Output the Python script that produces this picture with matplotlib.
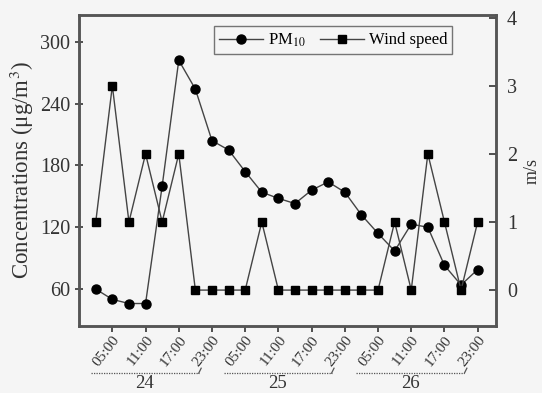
import matplotlib.pyplot as plt
import matplotlib.transforms as mtransforms

plt.rcParams['font.family'] = ['Liberation Serif', 'DejaVu Serif']
plt.rcParams['mathtext.fontset'] = 'stix'

days = ['24', '25', '26']
hours = ['02:00', '05:00', '08:00', '11:00', '14:00', '17:00', '20:00', '23:00']
tick_hours = ['05:00', '11:00', '17:00', '23:00']

pm10 = [60, 50, 46, 46, 160, 282, 254, 204,
        195, 174, 154, 148, 143, 156, 164, 154,
        132, 114, 97, 123, 120, 83, 64, 79]
wind = [1, 3, 1, 2, 1, 2, 0, 0,
        0, 0, 1, 0, 0, 0, 0, 0,
        0, 0, 1, 0, 2, 1, 0, 1]

bg = '#f5f5f5'
x = list(range(len(pm10)))

fig = plt.figure(figsize=(5.42, 3.93), dpi=100, facecolor=bg)
ax = fig.add_axes([0.146, 0.170, 0.769, 0.792], facecolor=bg)
ax2 = ax.twinx()

l1, = ax.plot(x, pm10, color='#444444', lw=1.0, marker='o', ms=6.5,
              mfc='black', mec='black', label='PM$_{10}$')
l2, = ax2.plot(x, wind, color='#444444', lw=1.0, marker='s', ms=6,
               mfc='black', mec='black', label='Wind speed')

ax.set_xlim(-1, 24.1)
ax.set_ylim(24, 326)
ax.set_yticks([60, 120, 180, 240, 300])
ax2.set_ylim(-0.53, 4.04)
ax2.set_yticks([0, 1, 2, 3, 4])

# x ticks: every 6 h starting at 05:00 of each day
xt, xl = [], []
for d in range(len(days)):
    for h in tick_hours:
        xt.append(d * len(hours) + hours.index(h))
        xl.append(h)
ax.set_xticks(xt)
ax.set_xticklabels(xl, rotation=52, ha='right', va='top',
                   rotation_mode='anchor', fontsize=11)

for a in (ax, ax2):
    for s in a.spines.values():
        s.set_linewidth(1.8)
        s.set_color('#555555')
ax.tick_params(axis='y', direction='inout', length=6, width=1.2,
               labelsize=14.5, colors='#333333')
ax2.tick_params(axis='y', direction='in', length=5, width=1.2,
                labelsize=14.5, colors='#333333', pad=8)
ax.tick_params(axis='x', direction='out', length=4, width=1.2,
               colors='#333333', pad=1)

ax.set_ylabel('Concentrations (μg/m$^3$)', fontsize=16.5, color='#333333',
              labelpad=3)
ax2.set_ylabel('m/s', fontsize=13, color='#333333', rotation=90,
               labelpad=5)

# day brackets under the tick labels
trans = mtransforms.blended_transform_factory(ax.transData, ax.transAxes)
for d, day in enumerate(days):
    x0 = d * 8 - 0.3
    x1 = d * 8 + 6.2
    ax.plot([x0, x1], [-0.151, -0.151], transform=trans, clip_on=False,
            color='#555555', lw=0.9, ls=(0, (1, 1)))
    ax.plot([x1, x1 + 0.15], [-0.151, -0.135], transform=trans,
            clip_on=False, color='#555555', lw=0.9)
    ax.text((x0 + x1) / 2, -0.2, day, transform=trans, ha='center',
            va='baseline', fontsize=13.5, color='#333333')

leg = ax.legend([l1, l2], ['PM$_{10}$', 'Wind speed'], ncol=2,
                loc='upper right', bbox_to_anchor=(0.915, 0.99),
                fontsize=12, frameon=True, fancybox=False, handlelength=2.6,
                columnspacing=0.9, borderpad=0.3, handletextpad=0.3)
leg.get_frame().set_edgecolor('#555555')
leg.get_frame().set_facecolor(bg)
leg.get_frame().set_linewidth(1.0)

fig.savefig('out.png', dpi=100, facecolor=bg)
